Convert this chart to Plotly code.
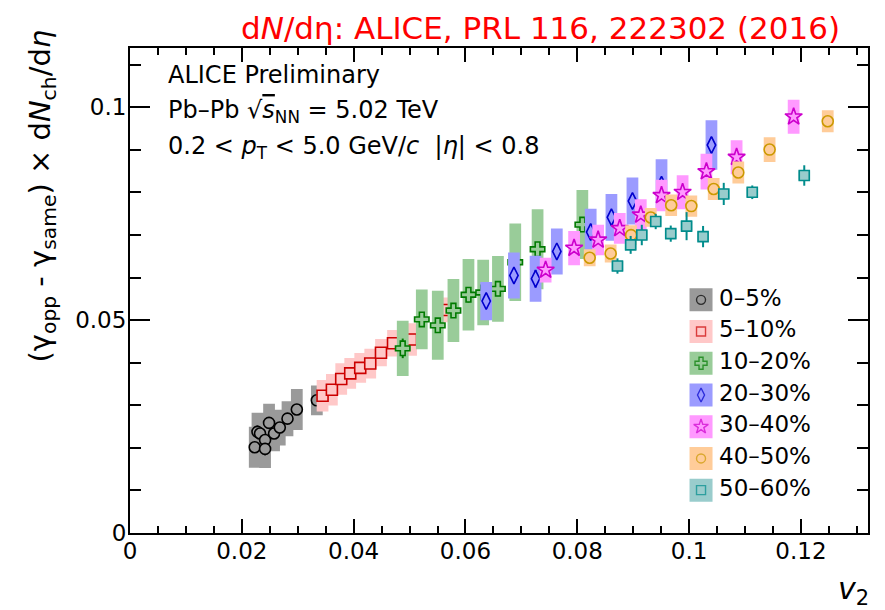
import plotly.graph_objects as go

# ---------------- data ----------------
labels = ["0–5%", "5–10%", "10–20%", "20–30%", "30–40%", "40–50%", "50–60%"]

v2_c0 = [0.02231, 0.02280, 0.02326, 0.02416, 0.02416, 0.02487, 0.02577, 0.02679, 0.02817, 0.02984, 0.03342]
y_c0 = [0.02014, 0.02375, 0.02338, 0.02183, 0.01975, 0.02586, 0.02338, 0.02477, 0.02685, 0.02900, 0.03116]
stat_c0 = [0.0012, 0.0015, 0.0012, 0.0012, 0.0015, 0.0012, 0.0012, 0.0012, 0.0012, 0.0012, 0.0012]
sys_c0 = [0.0048, 0.0045, 0.0045, 0.0045, 0.0045, 0.0045, 0.0042, 0.0042, 0.0041, 0.0048, 0.0035]

v2_c1 = [0.03444, 0.03611, 0.03778, 0.03939, 0.04118, 0.04297, 0.04489, 0.04704, 0.05027, 0.05636]
y_c1 = [0.03225, 0.03363, 0.03618, 0.03748, 0.03877, 0.03979, 0.04234, 0.04456, 0.04544, 0.05238]
stat_c1 = [0.0008, 0.0008, 0.0008, 0.0008, 0.0008, 0.0008, 0.0008, 0.0008, 0.0008, 0.0008]
sys_c1 = [0.0037, 0.0037, 0.0037, 0.0036, 0.0035, 0.0035, 0.0032, 0.0031, 0.0038, 0.0029]

v2_c2 = [0.04878, 0.05219, 0.05505, 0.05785, 0.06054, 0.06317, 0.06581, 0.06891, 0.07290, 0.08091]
y_c2 = [0.04336, 0.05016, 0.04877, 0.05224, 0.05595, 0.05648, 0.05734, 0.06359, 0.06664, 0.07243]
stat_c2 = [0.0023, 0.0012, 0.0012, 0.0012, 0.0018, 0.0012, 0.0012, 0.0012, 0.0012, 0.0012]
sys_c2 = [0.0065, 0.0070, 0.0081, 0.0074, 0.0084, 0.0077, 0.0077, 0.0091, 0.0094, 0.0081]

v2_c3 = [0.06371, 0.06867, 0.07254, 0.07634, 0.08240, 0.08611, 0.08987, 0.09507, 0.10400]
y_c3 = [0.05447, 0.06049, 0.05972, 0.06613, 0.07067, 0.07414, 0.07796, 0.08178, 0.09111]
stat_c3 = [0.0018, 0.0012, 0.0021, 0.0012, 0.0012, 0.0012, 0.0014, 0.0012, 0.0018]
sys_c3 = [0.0045, 0.0054, 0.0054, 0.0054, 0.0055, 0.0055, 0.0055, 0.0060, 0.0058]

v2_c4 = [0.07434, 0.07943, 0.08373, 0.08760, 0.09136, 0.09507, 0.09884, 0.10310, 0.10850, 0.11870]
y_c4 = [0.06174, 0.06690, 0.06882, 0.07153, 0.07470, 0.07928, 0.08002, 0.08488, 0.08826, 0.09775]
stat_c4 = [0.0008, 0.0008, 0.0008, 0.0008, 0.0008, 0.0008, 0.0008, 0.0008, 0.0008, 0.0008]
sys_c4 = [0.0029, 0.0040, 0.0036, 0.0036, 0.0037, 0.0037, 0.0040, 0.0042, 0.0040, 0.0040]

v2_c5 = [0.08222, 0.08597, 0.08962, 0.09315, 0.09680, 0.10040, 0.10440, 0.10880, 0.11440, 0.12480]
y_c5 = [0.06465, 0.06565, 0.06995, 0.07410, 0.07697, 0.07678, 0.08079, 0.08465, 0.09005, 0.09669]
stat_c5 = [0.0008, 0.0008, 0.0008, 0.0008, 0.0008, 0.0008, 0.0008, 0.0008, 0.0008, 0.0008]
sys_c5 = [0.0020, 0.0021, 0.0023, 0.0022, 0.0025, 0.0025, 0.0026, 0.0026, 0.0029, 0.0026]

v2_c6 = [0.08719, 0.08955, 0.09154, 0.09403, 0.09672, 0.09955, 0.10250, 0.10620, 0.11130, 0.12060]
y_c6 = [0.06270, 0.06766, 0.06998, 0.07315, 0.07030, 0.07206, 0.06961, 0.07963, 0.08002, 0.08396]
stat_c6 = [0.0018, 0.0021, 0.0024, 0.0018, 0.0019, 0.0033, 0.0025, 0.0026, 0.0016, 0.0024]
sys_c6 = [0.0012, 0.0012, 0.0012, 0.0012, 0.0012, 0.0012, 0.0012, 0.0012, 0.0012, 0.0012]

x_ticks = [0, 0.02, 0.04, 0.06, 0.08, 0.1, 0.12]
y_ticks = [0, 0.05, 0.1]

# ---------------- styles ----------------
FONT = "DejaVu Sans"
box_colors = ["#9a9a9a", "#ffc8c8", "#99cc99", "#9b9bff", "#ff99ff", "#ffcc99", "#99cccc"]
mk_colors = ["#000000", "#cc0000", "#007a00", "#0000cc", "#cc00cc", "#cc9900", "#008c8c"]
# solid symbols filled with the box colour, so they look open over their boxes
symbols = ["circle", "square", "cross", "diamond-tall", "star", "circle", "square"]
sizes = [11, 11, 12, 12, 13, 11, 10]
BOX_HW = 0.00105

# plot-area geometry in pixels
L, R, T, B = 122, 25, 40, 85
W, H = 885, 610
PW, PH = W - L - R, H - T - B


def px(xp):
    return (xp - L) / PW


def py(yp):
    return (H - B - yp) / PH


series = [
    (v2_c0, y_c0, stat_c0, sys_c0),
    (v2_c1, y_c1, stat_c1, sys_c1),
    (v2_c2, y_c2, stat_c2, sys_c2),
    (v2_c3, y_c3, stat_c3, sys_c3),
    (v2_c4, y_c4, stat_c4, sys_c4),
    (v2_c5, y_c5, stat_c5, sys_c5),
    (v2_c6, y_c6, stat_c6, sys_c6),
]

fig = go.Figure()

for i, (xs, ys, st, sy) in enumerate(series):
    bx, by = [], []
    for x, y, s in zip(xs, ys, sy):
        bx += [x - BOX_HW, x + BOX_HW, x + BOX_HW, x - BOX_HW, x - BOX_HW, None]
        by += [y - s, y - s, y + s, y + s, y - s, None]
    fig.add_trace(go.Scatter(
        x=bx, y=by, mode="lines", fill="toself", fillcolor=box_colors[i],
        line=dict(width=0, color=box_colors[i]), showlegend=False, hoverinfo="skip"))
    fig.add_trace(go.Scatter(
        x=xs, y=ys, mode="markers", name=labels[i], showlegend=False,
        marker=dict(symbol=symbols[i], size=sizes[i], color=box_colors[i],
                    line=dict(width=1.6, color=mk_colors[i])),
        error_y=dict(type="data", array=st, visible=True, width=0,
                     thickness=2, color=mk_colors[i])))

# ---------------- legend (drawn on its own small axes) ----------------
fig.add_trace(go.Scatter(
    x=[0.13] * len(labels), y=labels, xaxis="x2", yaxis="y2", mode="markers",
    marker=dict(symbol="square", size=23, color=box_colors, line=dict(width=0)),
    showlegend=False, hoverinfo="skip"))
fig.add_trace(go.Scatter(
    x=[0.13] * len(labels), y=labels, xaxis="x2", yaxis="y2", mode="markers",
    marker=dict(symbol=symbols, size=[9, 9, 10, 10, 11, 9, 9], color=box_colors,
                line=dict(width=1.4, color=mk_colors)),
    showlegend=False, hoverinfo="skip"))
fig.add_trace(go.Scatter(
    x=[0.25] * len(labels), y=labels, xaxis="x2", yaxis="y2", mode="text",
    text=labels, textposition="middle right",
    textfont=dict(family=FONT, size=23, color="black"),
    showlegend=False, hoverinfo="skip"))

axis_common = dict(showline=True, linecolor="black", linewidth=2, mirror="allticks",
                   ticks="inside", tickcolor="black", tickwidth=2, showgrid=False,
                   zeroline=False,
                   tickfont=dict(family=FONT, size=23, color="black"))

fig.update_layout(
    width=W, height=H,
    margin=dict(l=L, r=R, t=T, b=B),
    paper_bgcolor="white", plot_bgcolor="white",
    showlegend=False,
    xaxis=dict(range=[0, 0.132], tickvals=x_ticks, ticklen=14,
               minor=dict(dtick=0.005, ticks="inside", ticklen=7, tickwidth=2,
                          tickcolor="black", showgrid=False),
               ticklabelstandoff=-4, **axis_common),
    yaxis=dict(range=[0, 0.1139], tickvals=y_ticks, ticklen=20,
               minor=dict(dtick=0.01, ticks="inside", ticklen=11, tickwidth=2,
                          tickcolor="black", showgrid=False),
               ticklabelstandoff=-3, **axis_common),
    xaxis2=dict(domain=[px(673.5), px(823.7)], range=[0, 1], anchor="y2", visible=False,
                fixedrange=True),
    yaxis2=dict(domain=[py(498), py(276)], anchor="x2", visible=False, type="category",
                categoryorder="array", categoryarray=labels, range=[6.5, -0.5],
                fixedrange=True),
)

# ---------------- texts ----------------
fig.add_annotation(
    text="d<i>N</i>/dη: ALICE, PRL 116, 222302 (2016)", xref="paper", yref="paper",
    x=px(532), y=py(20.5), xanchor="center", yanchor="middle",
    showarrow=False, font=dict(family=FONT, size=31, color="#ff0000"))

info_lines = [
    "ALICE Preliminary",
    "Pb–Pb √<span style='text-decoration:overline'><i>s</i></span><sub>NN</sub> = 5.02 TeV",
    "0.2 &lt; <i>p</i><sub>T</sub> &lt; 5.0 GeV/<i>c</i>\u00a0\u00a0|<i>η</i>| &lt; 0.8",
]
info_y = [67, 103, 139]
for t, yy in zip(info_lines, info_y):
    fig.add_annotation(text=t, xref="paper", yref="paper", x=px(158),
                       y=py(yy), xanchor="left", yanchor="middle",
                       showarrow=False, font=dict(family=FONT, size=24, color="black"))

fig.add_annotation(
    text="(γ<sub>opp</sub> - γ<sub>same</sub>) × d<i>N</i><sub>ch</sub>/d<i>η</i>",
    xref="paper", yref="paper", x=px(34), y=py(20),
    xanchor="center", yanchor="top", textangle=-90, showarrow=False,
    font=dict(family=FONT, size=29, color="black"))

fig.add_annotation(
    text="<i>v</i><sub>2</sub>", xref="paper", yref="paper", x=px(863),
    y=py(582), xanchor="right", yanchor="middle", showarrow=False,
    font=dict(family=FONT, size=30, color="black"))

fig.write_html("out.html")
